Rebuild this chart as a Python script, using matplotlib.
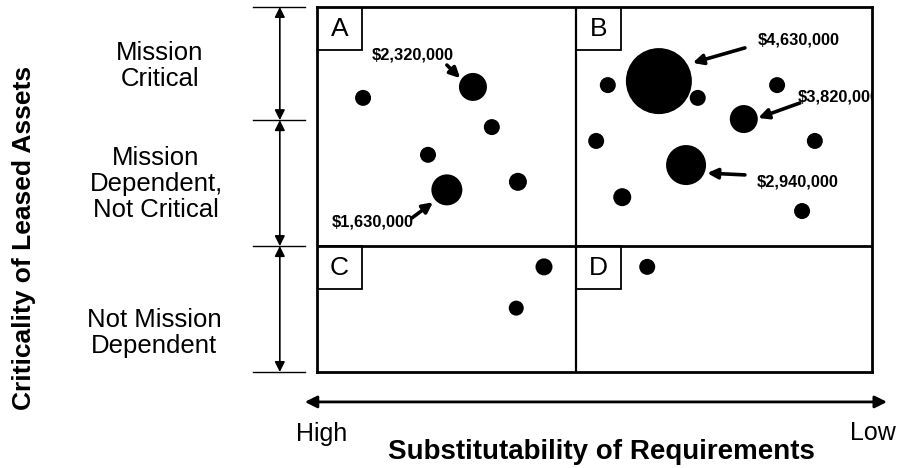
import matplotlib
matplotlib.use("Agg")
import matplotlib.pyplot as plt
from matplotlib.patches import Rectangle

plt.rcParams['font.family'] = ['Liberation Sans', 'DejaVu Sans']

# Bubble positions on a 0-100 grid (x: substitutability high->low, y: criticality low->high)
quadrant_names = ["A", "B", "C", "D"]
bubble_x = [8.3, 28.1, 31.5, 20.0, 23.4, 36.2,
            61.6, 52.4, 68.6, 82.9, 76.9, 89.7, 50.3, 66.5, 55.0, 87.4,
            40.9, 35.9,
            59.5]
bubble_y = [75.1, 78.1, 67.1, 59.5, 49.9, 52.1,
            79.7, 78.6, 75.1, 78.6, 69.3, 63.3, 63.3, 56.7, 47.9, 44.1,
            28.8, 17.5,
            28.8]
# bubble diameters (pixels)
bubble_diam = [16, 28, 16, 16, 31, 18,
               66, 16, 16, 16, 28, 16, 16, 40, 18, 16,
               17, 15,
               16]
cost_labels = ["$2,320,000", "$1,630,000", "$4,630,000", "$3,820,000", "$2,940,000"]
row_labels = ["Mission\nCritical", "Mission\nDependent,\nNot Critical", "Not Mission\nDependent"]
row_bounds = [100, 69.0, 34.5, 0]
col_split = 46.7

fig = plt.figure(figsize=(8.99, 4.68), dpi=100)
ax = fig.add_axes([317 / 899, 96 / 468, 555 / 899, 365 / 468])
ax.set_xlim(0, 100)
ax.set_ylim(0, 100)
ax.set_xticks([])
ax.set_yticks([])
for sp in ax.spines.values():
    sp.set_linewidth(2.0)
    sp.set_zorder(5)

# quadrant dividers
ax.axvline(col_split, color="black", lw=1.6)
ax.axhline(row_bounds[2], color="black", lw=2.0)

# quadrant letter boxes
box_w, box_h = 8.1, 11.8
corners = [(0, 100), (col_split, 100), (0, row_bounds[2]), (col_split, row_bounds[2])]
for name, (cx, cy) in zip(quadrant_names, corners):
    ax.add_patch(Rectangle((cx, cy - box_h), box_w, box_h, fill=False, lw=1.3, ec="black"))
    ax.text(cx + box_w / 2, cy - box_h / 2, name, ha="center", va="center", fontsize=19)

# bubbles
sizes = [(d * 72 / 100) ** 2 for d in bubble_diam]
ax.scatter(bubble_x, bubble_y, s=sizes, color="black", zorder=3, linewidths=0)

# cost callouts: text position, arrow tail, arrow head
callouts = [
    (cost_labels[0], (9.9, 86.8), (23.4, 84.1), (25.8, 80.5)),
    (cost_labels[1], (2.7, 41.1), (17.1, 42.2), (20.9, 46.5)),
    (cost_labels[2], (79.5, 91.0), (77.1, 88.8), (67.7, 84.7)),
    (cost_labels[3], (86.7, 75.3), (87.0, 73.7), (79.5, 69.6)),
    (cost_labels[4], (79.3, 52.1), (77.1, 54.0), (70.3, 54.5)),
]
for txt, tpos, tail, head in callouts:
    ax.text(tpos[0], tpos[1], txt, fontsize=11.8, fontweight="bold", ha="left", va="center",
            clip_on=True, zorder=4)
    ax.annotate("", xy=head, xytext=tail,
                arrowprops=dict(arrowstyle="-|>", color="black", lw=2.6, mutation_scale=15,
                                shrinkA=0, shrinkB=0),
                annotation_clip=False)

# left bracket with arrows between row boundaries
bx = -6.7
for yb in row_bounds:
    ax.plot([-11.5, -2.2], [yb, yb], color="black", lw=1.0, clip_on=False)
for top, bot in zip(row_bounds[:-1], row_bounds[1:]):
    ax.annotate("", xy=(bx, bot), xytext=(bx, top),
                arrowprops=dict(arrowstyle="<|-|>", color="black", lw=1.2, mutation_scale=15,
                                shrinkA=0, shrinkB=0),
                annotation_clip=False)

# row labels (centre positions in pixels from the top-left)
label_pos = [(160, 66), (156, 184), (154, 333)]
for lab, (lx, ly) in zip(row_labels, label_pos):
    fig.text(lx / 899, 1 - ly / 468, lab, ha="center", va="center",
             fontsize=18.5, linespacing=1.12)

# bottom axis arrow
ax.annotate("", xy=(102.7, -8.2), xytext=(-2.2, -8.2),
            arrowprops=dict(arrowstyle="<|-|>", color="black", lw=2.0, mutation_scale=18,
                            shrinkA=0, shrinkB=0),
            annotation_clip=False)

fig.text(322 / 899, 1 - 434 / 468, "High", ha="center", va="center", fontsize=18)
fig.text(873 / 899, 1 - 433 / 468, "Low", ha="center", va="center", fontsize=18)
fig.text(601 / 899, 1 - 452 / 468, "Substitutability of Requirements", ha="center", va="center",
         fontsize=20, fontweight="bold")
fig.text(24 / 899, 1 - 238 / 468, "Criticality of Leased Assets", ha="center", va="center",
         fontsize=19, fontweight="bold", rotation=90)

fig.savefig("out.png", dpi=100)
